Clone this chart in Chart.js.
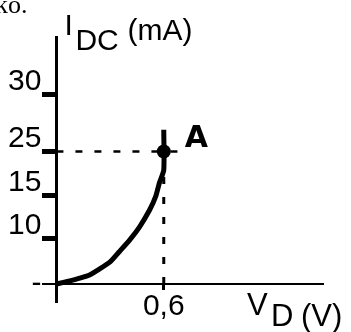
<!DOCTYPE html>
<html>
<head>
<meta charset="utf-8">
<script src="https://cdn.jsdelivr.net/npm/chart.js@4"></script>
<style>
  body { margin: 0; background: #fff; }
  canvas { display: block; }
</style>
</head>
<body>
<canvas id="diode" width="351" height="332"></canvas>
<script>
// diode forward characteristic, I_DC (mA) against V_D (V)
var vd  = [0, 0.075, 0.13, 0.185, 0.24, 0.30, 0.35, 0.41, 0.465, 0.52, 0.555, 0.575, 0.6, 0.6];
var idc = [0, 0.7, 1.3, 2.0, 3.3, 4.9, 7.1, 9.8, 11.4, 13.3, 14.9, 17.8, 20.8, 26.9];

// working point A and its guide lines
var pointA = { vd: 0.6, idc: 25 };
var guideEnd = 0.72;

var xTicks = [0.6];
var xTickLabels = ['0,6'];
var yTicks = [0, 10, 15, 25, 30];
var yTickLabels = ['-', '10', '15', '25', '30'];

// the current axis is sketched, not to scale: each tick gets its own spot
var yStops = [-4, 0, 10, 15, 25, 30, 35];
var yStopPos = [0, 0.068, 0.238, 0.402, 0.568, 0.783, 1];

function interp(v, from, to) {
    for (var i = 1; i < from.length; i++) {
        if (v <= from[i] || i == from.length - 1) {
            var t = (v - from[i - 1]) / (from[i] - from[i - 1]);
            return to[i - 1] + t * (to[i] - to[i - 1]);
        }
    }
}

class SketchScale extends Chart.LinearScale {
    getPixelForValue(value) {
        return this.getPixelForDecimal(interp(value, yStops, yStopPos));
    }
    getValueForPixel(pixel) {
        return interp(this.getDecimalForPixel(pixel), yStopPos, yStops);
    }
}
SketchScale.id = 'sketch';
SketchScale.defaults = Chart.LinearScale.defaults;
Chart.register(SketchScale);

// axis titles, point name and the bit of text above the figure
var labelsPlugin = {
    id: 'labels',
    afterDraw: function (chart) {
        var ctx = chart.ctx;
        var ax = chart.scales.x.getPixelForValue(0);
        var ay = chart.scales.y.getPixelForValue(0);
        ctx.save();
        ctx.fillStyle = '#000';
        ctx.textBaseline = 'alphabetic';
        ctx.textAlign = 'left';

        ctx.font = '26px "Liberation Serif"';
        ctx.fillText('ko.', -5, 13);

        ctx.font = '30px "Liberation Sans"';
        ctx.fillText('I', ax + 8, 35);
        ctx.fillText('DC', ax + 19, 50);
        ctx.fillText('(mA)', ax + 71, 40);

        ctx.font = '31px "Liberation Sans"';
        ctx.fillText('V', 247, ay + 31);
        ctx.fillText('D', 271, ay + 42);
        ctx.fillText('(V)', 301, ay + 42);

        var px = chart.scales.x.getPixelForValue(pointA.vd);
        var py = chart.scales.y.getPixelForValue(pointA.idc);
        ctx.font = 'bold 30px "DejaVu Sans"';
        ctx.fillText('A', px + 21, py - 4);
        ctx.restore();
    }
};

var curve = vd.map(function (v, i) { return { x: v, y: idc[i] }; });

new Chart(document.getElementById('diode'), {
    type: 'line',
    data: {
        datasets: [
            {
                data: [{ x: pointA.vd, y: pointA.idc }],
                showLine: false,
                pointRadius: 7,
                pointBackgroundColor: '#000',
                pointBorderWidth: 0
            },
            {
                data: curve,
                borderColor: '#000',
                borderWidth: 5,
                tension: 0.2,
                pointRadius: 0
            },
            {
                data: [{ x: 0, y: pointA.idc }, { x: guideEnd, y: pointA.idc }],
                borderColor: '#000',
                borderWidth: 2.5,
                borderDash: [7, 12],
                pointRadius: 0
            },
            {
                data: [{ x: pointA.vd, y: 0 }, { x: pointA.vd, y: pointA.idc }],
                borderColor: '#000',
                borderWidth: 3,
                borderDash: [7, 13],
                pointRadius: 0
            }
        ]
    },
    options: {
        responsive: false,
        animation: false,
        devicePixelRatio: 1,
        layout: { padding: { left: 43, right: 28, top: 37, bottom: 30 } },
        plugins: {
            legend: { display: false },
            tooltip: { enabled: false }
        },
        scales: {
            x: {
                type: 'linear',
                position: { y: 0 },
                min: -0.075,
                max: 1.49,
                afterBuildTicks: function (scale) {
                    scale.ticks = xTicks.map(function (v) { return { value: v }; });
                },
                ticks: {
                    autoSkip: false,
                    maxRotation: 0,
                    padding: 0,
                    color: '#000',
                    font: { family: 'Liberation Sans', size: 30 },
                    callback: function (value, index) { return xTickLabels[index]; }
                },
                grid: { drawOnChartArea: false, tickLength: 5, tickWidth: 3, color: '#000', tickColor: '#000' },
                border: { width: 2, color: '#000' }
            },
            y: {
                type: 'sketch',
                position: { x: 0 },
                min: -4,
                max: 35,
                afterBuildTicks: function (scale) {
                    scale.ticks = yTicks.map(function (v) { return { value: v }; });
                },
                ticks: {
                    autoSkip: false,
                    color: '#000',
                    font: { family: 'Liberation Sans', size: 30, lineHeight: '26px' },
                    // labels are right aligned on the axis itself, so an en space keeps
                    // them clear of the tick marks; numbers sit just above their ticks
                    callback: function (value, index) {
                        var label = yTickLabels[index] + '\u2002';
                        return value === 0 ? label : [label, ''];
                    }
                },
                grid: {
                    drawOnChartArea: false,
                    tickLength: 13,
                    tickWidth: 5,
                    color: '#000',
                    tickColor: function (ctx) { return ctx.tick && ctx.tick.value === 0 ? 'rgba(0,0,0,0)' : '#000'; }
                },
                border: { width: 3, color: '#000' }
            }
        }
    },
    plugins: [labelsPlugin]
});
</script>
</body>
</html>
